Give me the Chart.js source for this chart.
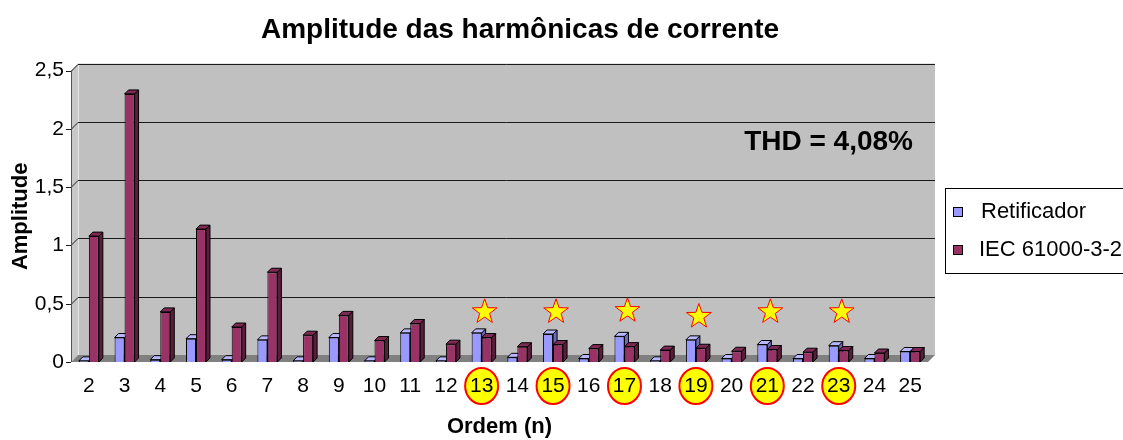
<!DOCTYPE html>
<html>
<head>
<meta charset="utf-8">
<script src="https://cdn.jsdelivr.net/npm/chart.js@4/dist/chart.umd.min.js"></script>
<style>
  html, body { margin: 0; padding: 0; background: #fff; }
</style>
</head>
<body>
<canvas id="harmChart" width="1123" height="440"></canvas>
<script>
// harmonic orders (x axis)
const orders = ['2', '3', '4', '5', '6', '7', '8', '9', '10', '11', '12', '13',
                '14', '15', '16', '17', '18', '19', '20', '21', '22', '23', '24', '25'];
// measured rectifier current harmonics
const retificador = [0.01, 0.21, 0.02, 0.20, 0.02, 0.19, 0.01, 0.21, 0.01, 0.25, 0.01, 0.25,
                     0.04, 0.24, 0.03, 0.22, 0.01, 0.19, 0.03, 0.15, 0.03, 0.14, 0.03, 0.09];
// IEC 61000-3-2 limits
const iecLimit = [1.08, 2.30, 0.43, 1.14, 0.30, 0.77, 0.23, 0.40, 0.184, 0.33, 0.153, 0.21,
                  0.131, 0.15, 0.115, 0.132, 0.102, 0.118, 0.092, 0.107, 0.084, 0.098, 0.077, 0.090];
const yTicks = [0, 0.5, 1, 1.5, 2, 2.5];
// highlighted orders (stars + circled labels)
const starOrders = ['13', '15', '17', '19', '21', '23'];
const starLevels = [0.43, 0.43, 0.44, 0.39, 0.43, 0.43];
const thdText = 'THD = 4,08%';

const FONT = "'Liberation Sans', Arial, sans-serif";
const DEPTH = 7;     // depth of the walls
const BAR_D = 4;     // depth of the bars

const faceColors = [
    { side: '#6B6BB8', top: '#B8B8FF' },
    { side: '#5A1E3C', top: '#7E2A55' }
];

function drawStar(ctx, cx, cy, R, r) {
    ctx.beginPath();
    for (let i = 0; i < 10; i++) {
        const rad = i % 2 === 0 ? R : r;
        const a = -Math.PI / 2 + i * Math.PI / 5;
        const px = cx + rad * Math.cos(a);
        const py = cy + rad * Math.sin(a);
        if (i === 0) ctx.moveTo(px, py); else ctx.lineTo(px, py);
    }
    ctx.closePath();
    ctx.fillStyle = '#FFFF00';
    ctx.fill();
    ctx.strokeStyle = '#FF0000';
    ctx.lineWidth = 1;
    ctx.stroke();
}

const wallPlugin = {
    id: 'wall3d',
    beforeDraw(chart) {
        const ctx = chart.ctx;
        const { left, right, top, bottom } = chart.chartArea;
        const x = chart.scales.x, y = chart.scales.y;
        ctx.save();
        // back wall
        ctx.fillStyle = '#C0C0C0';
        ctx.fillRect(left + DEPTH, top - DEPTH, right - left, bottom - top);
        // left wall
        ctx.beginPath();
        ctx.moveTo(left, top);
        ctx.lineTo(left + DEPTH, top - DEPTH);
        ctx.lineTo(left + DEPTH, bottom - DEPTH);
        ctx.lineTo(left, bottom);
        ctx.closePath();
        ctx.fillStyle = '#C8C8C8';
        ctx.fill();
        // floor
        ctx.beginPath();
        ctx.moveTo(left, bottom);
        ctx.lineTo(right, bottom);
        ctx.lineTo(right + DEPTH, bottom - DEPTH);
        ctx.lineTo(left + DEPTH, bottom - DEPTH);
        ctx.closePath();
        ctx.fillStyle = '#808080';
        ctx.fill();
        // light edge where the walls meet
        ctx.strokeStyle = '#E6E6E6';
        ctx.lineWidth = 1;
        ctx.beginPath();
        ctx.moveTo(left + DEPTH + 0.5, top - DEPTH);
        ctx.lineTo(left + DEPTH + 0.5, bottom - DEPTH);
        ctx.stroke();
        // gridlines on the walls + tick marks
        ctx.strokeStyle = '#1A1A1A';
        yTicks.forEach(v => {
            const py = Math.round(y.getPixelForValue(v)) + 0.5;
            ctx.beginPath();
            ctx.moveTo(left - 5, py);
            ctx.lineTo(left, py);
            if (v > 0) {
                ctx.lineTo(left + DEPTH, py - DEPTH);
                ctx.lineTo(right + DEPTH, py - DEPTH);
            }
            ctx.stroke();
        });
        // front axis line
        ctx.strokeStyle = '#555';
        ctx.beginPath();
        ctx.moveTo(left + 0.5, top);
        ctx.lineTo(left + 0.5, bottom);
        ctx.stroke();
        // circles behind highlighted labels
        starOrders.forEach(o => {
            const px = x.getPixelForValue(orders.indexOf(o));
            ctx.beginPath();
            ctx.ellipse(px, bottom + 24, 16.5, 18, 0, 0, Math.PI * 2);
            ctx.fillStyle = '#FFFF00';
            ctx.fill();
            ctx.strokeStyle = '#FF0000';
            ctx.lineWidth = 2;
            ctx.stroke();
        });
        ctx.restore();
    },
    beforeDatasetsDraw(chart) {
        const ctx = chart.ctx;
        ctx.save();
        ctx.lineWidth = 1;
        ctx.strokeStyle = '#000';
        chart.data.datasets.forEach((ds, di) => {
            chart.getDatasetMeta(di).data.forEach(bar => {
                const l = bar.x - bar.width / 2, r = bar.x + bar.width / 2;
                const t = Math.min(bar.y, bar.base), b = Math.max(bar.y, bar.base);
                ctx.beginPath();
                ctx.moveTo(r, b);
                ctx.lineTo(r + BAR_D, b - BAR_D);
                ctx.lineTo(r + BAR_D, t - BAR_D);
                ctx.lineTo(r, t);
                ctx.closePath();
                ctx.fillStyle = faceColors[di].side;
                ctx.fill();
                ctx.stroke();
                ctx.beginPath();
                ctx.moveTo(l, t);
                ctx.lineTo(l + BAR_D, t - BAR_D);
                ctx.lineTo(r + BAR_D, t - BAR_D);
                ctx.lineTo(r, t);
                ctx.closePath();
                ctx.fillStyle = faceColors[di].top;
                ctx.fill();
                ctx.stroke();
            });
        });
        ctx.restore();
    },
    afterDraw(chart) {
        const ctx = chart.ctx;
        const { right, top } = chart.chartArea;
        const x = chart.scales.x, y = chart.scales.y;
        ctx.save();
        // stars
        starOrders.forEach((o, i) => {
            drawStar(ctx, x.getPixelForValue(orders.indexOf(o)) + 3, y.getPixelForValue(starLevels[i]), 13, 5.2);
        });
        // THD note
        ctx.fillStyle = '#000';
        ctx.font = 'bold 28px ' + FONT;
        ctx.textAlign = 'right';
        ctx.textBaseline = 'alphabetic';
        ctx.fillText(thdText, right - 15, top + 79);
        // legend box
        const lx = right + 17, ly = 188;
        ctx.fillStyle = '#fff';
        ctx.fillRect(lx, ly, 220, 85);
        ctx.strokeStyle = '#000';
        ctx.lineWidth = 1;
        ctx.strokeRect(lx + 0.5, ly + 0.5, 220, 85);
        ctx.font = '22px ' + FONT;
        ctx.textAlign = 'left';
        ctx.textBaseline = 'middle';
        chart.data.datasets.forEach((ds, i) => {
            const cy = ly + 24 + i * 38;
            ctx.fillStyle = ds.backgroundColor;
            ctx.fillRect(lx + 8, cy - 5, 9, 9);
            ctx.strokeRect(lx + 8.5, cy - 4.5, 9, 9);
            ctx.fillStyle = '#000';
            ctx.fillText(ds.label, lx + 36 - i * 2, cy);
        });
        ctx.restore();
    }
};

new Chart(document.getElementById('harmChart').getContext('2d'), {
    type: 'bar',
    data: {
        labels: orders,
        datasets: [{
            label: 'Retificador',
            data: retificador,
            backgroundColor: '#9999FF',
            borderColor: '#000',
            borderWidth: 1,
            categoryPercentage: 0.56,
            barPercentage: 1
        }, {
            label: 'IEC 61000-3-2',
            data: iecLimit,
            backgroundColor: '#993366',
            borderColor: '#000',
            borderWidth: 1,
            categoryPercentage: 0.56,
            barPercentage: 1
        }]
    },
    options: {
        responsive: false,
        animation: false,
        layout: { padding: { left: 0, right: 83, top: 0, bottom: 0 } },
        plugins: {
            legend: { display: false },
            tooltip: { enabled: false },
            title: {
                display: true,
                text: 'Amplitude das harmônicas de corrente',
                color: '#000',
                font: { family: FONT, size: 28, weight: 'bold' },
                padding: { top: 13, bottom: 24 }
            }
        },
        scales: {
            x: {
                grid: { display: false, drawTicks: false },
                border: { display: false },
                ticks: { color: '#000', font: { family: FONT, size: 21 }, padding: 12, maxRotation: 0, autoSkip: false },
                title: {
                    display: true,
                    text: 'Ordem (n)',
                    color: '#000',
                    font: { family: FONT, size: 22, weight: 'bold' },
                    padding: { top: 0, bottom: 0 }
                },
                afterFit: s => { s.height = 78; }
            },
            y: {
                min: 0,
                max: 2.5,
                grid: { display: false, drawTicks: false },
                border: { display: false },
                afterBuildTicks: s => { s.ticks = yTicks.map(v => ({ value: v })); },
                ticks: {
                    color: '#000',
                    font: { family: FONT, size: 21 },
                    padding: 7,
                    callback: v => String(v).replace('.', ',')
                },
                title: {
                    display: true,
                    text: 'Amplitude',
                    color: '#000',
                    font: { family: FONT, size: 22, weight: 'bold' },
                    padding: { top: 8, bottom: 0 }
                },
                afterFit: s => { s.width = 71; }
            },
            // empty right-hand axis: reserves the room where the legend sits
            yRoom: {
                type: 'linear',
                position: 'right',
                grid: { display: false, drawTicks: false },
                border: { display: false },
                ticks: { display: false },
                afterFit: s => { s.width = 112; }
            }
        }
    },
    plugins: [wallPlugin]
});
</script>
</body>
</html>
